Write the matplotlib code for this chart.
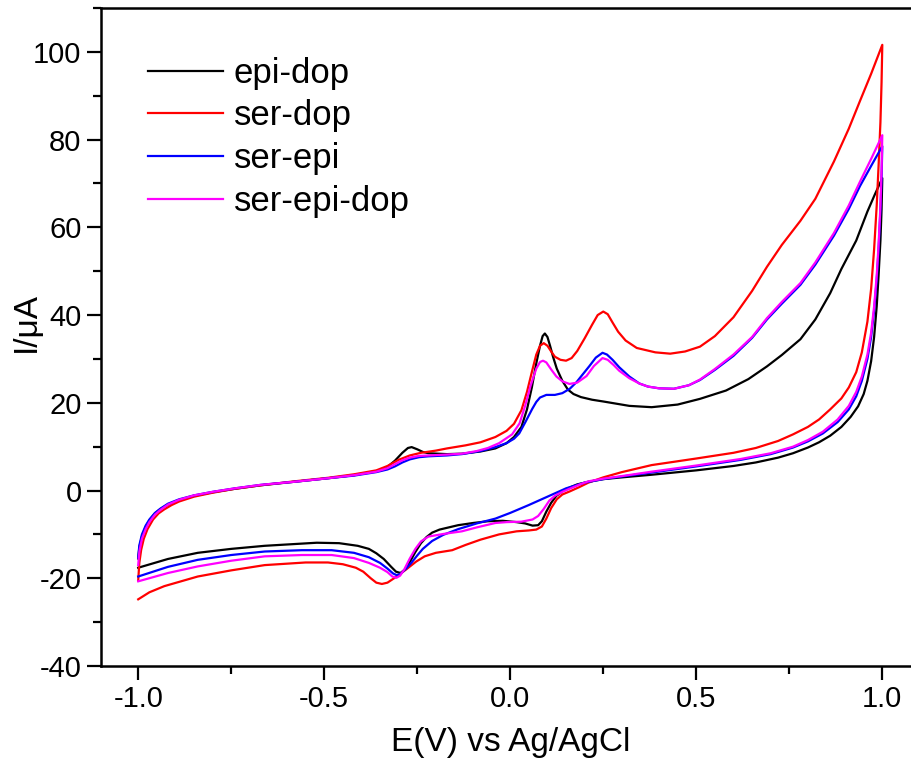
import matplotlib
matplotlib.use("Agg")
import matplotlib.pyplot as plt
from matplotlib.ticker import MultipleLocator, FormatStrFormatter

plt.rcParams['font.family'] = ['Liberation Sans', 'DejaVu Sans']
plt.rcParams['axes.unicode_minus'] = False

labels = ["epi-dop", "ser-dop", "ser-epi", "ser-epi-dop"]
colors = ["black", "#ff0000", "#0000ff", "#ff00ff"]

# epi-dop
epi_dop_fwd_E = [-1.0, -0.997, -0.99, -0.98, -0.97, -0.955, -0.94, -0.92, -0.89, -0.85, -0.80, -0.74, -0.67, -0.58,
                 -0.49, -0.42, -0.36, -0.33, -0.31, -0.29, -0.275, -0.265, -0.25, -0.235, -0.22, -0.17, -0.13,
                 -0.08, -0.04, -0.01, 0.01, 0.03, 0.045, 0.058, 0.07, 0.08, 0.087, 0.093, 0.1, 0.107, 0.115,
                 0.125, 0.14, 0.155, 0.17, 0.19, 0.22, 0.25, 0.32, 0.38, 0.45, 0.51, 0.58, 0.64, 0.69, 0.73,
                 0.78, 0.82, 0.86, 0.89, 0.93, 0.96, 0.98, 1.0]
epi_dop_fwd_I = [-15.5, -13.0, -10.5, -8.3, -6.8, -5.2, -4.2, -3.2, -2.2, -1.2, -0.4, 0.4, 1.2, 2.0,
                 2.8, 3.5, 4.4, 5.4, 6.8, 8.6, 9.7, 9.9, 9.4, 8.8, 8.5, 8.3, 8.4,
                 8.9, 9.6, 10.8, 12.2, 14.5, 18.5, 23.5, 29.0, 33.0, 35.2, 35.8, 35.0, 33.0, 30.5,
                 27.8, 25.0, 23.0, 22.0, 21.3, 20.7, 20.3, 19.3, 19.0, 19.6, 20.9, 22.8, 25.4, 28.3, 30.9,
                 34.5, 39.0, 45.0, 50.5, 57.0, 63.6, 67.5, 71.2]
epi_dop_rev_E = [1.0, 0.998, 0.995, 0.99, 0.985, 0.978, 0.97, 0.96, 0.95, 0.935, 0.915, 0.89, 0.86, 0.83,
                 0.80, 0.76, 0.72, 0.66, 0.60, 0.50, 0.38, 0.30, 0.25, 0.21, 0.18, 0.16, 0.14, 0.124, 0.11,
                 0.097, 0.085, 0.075, 0.06, 0.04, 0.017, -0.02, -0.06, -0.10, -0.14, -0.19, -0.21, -0.225,
                 -0.24, -0.255, -0.27, -0.283, -0.295, -0.307, -0.32, -0.34, -0.36, -0.38, -0.41, -0.46,
                 -0.52, -0.58, -0.66, -0.75, -0.84, -0.92, -1.0]
epi_dop_rev_I = [71.2, 64.0, 57.0, 49.0, 42.0, 35.0, 29.5, 25.0, 22.0, 19.2, 16.8, 14.5, 12.5, 11.0,
                 9.8, 8.5, 7.5, 6.4, 5.6, 4.6, 3.6, 3.0, 2.6, 2.0, 1.4, 0.7, -0.2, -1.2, -2.8,
                 -4.8, -7.0, -7.9, -8.0, -7.5, -7.2, -6.9, -7.0, -7.4, -7.9, -8.9, -9.6, -10.6,
                 -12.0, -14.0, -16.3, -18.0, -18.8, -18.5, -17.4, -15.6, -14.3, -13.3, -12.6, -12.0,
                 -11.9, -12.2, -12.6, -13.3, -14.2, -15.6, -17.6]

# ser-dop
ser_dop_fwd_E = [-1.0, -0.997, -0.992, -0.985, -0.975, -0.96, -0.945, -0.93, -0.91, -0.89, -0.85, -0.80, -0.74,
                 -0.67, -0.58, -0.49, -0.42, -0.36, -0.33, -0.30, -0.27, -0.24, -0.20, -0.17, -0.12, -0.08,
                 -0.04, -0.01, 0.01, 0.03, 0.045, 0.058, 0.07, 0.08, 0.09, 0.1, 0.11, 0.12, 0.135, 0.15, 0.165,
                 0.18, 0.2, 0.22, 0.235, 0.25, 0.262, 0.275, 0.29, 0.31, 0.34, 0.39, 0.43, 0.47, 0.51, 0.55,
                 0.60, 0.65, 0.69, 0.73, 0.78, 0.82, 0.87, 0.91, 0.94, 0.97, 1.0]
ser_dop_fwd_I = [-20.5, -16.5, -13.5, -11.0, -8.8, -6.6, -5.2, -4.3, -3.3, -2.5, -1.4, -0.5, 0.4,
                 1.2, 2.1, 2.9, 3.7, 4.6, 5.6, 7.0, 8.0, 8.6, 9.1, 9.6, 10.3, 11.0,
                 12.2, 13.6, 15.2, 18.3, 22.5, 27.0, 31.0, 33.0, 33.6, 33.0, 31.7, 30.5, 29.8, 29.6, 30.2,
                 31.8, 34.7, 37.8, 40.0, 40.8, 40.2, 38.3, 36.2, 34.2, 32.5, 31.5, 31.2, 31.7, 32.8, 35.2,
                 39.5, 45.5, 51.0, 56.0, 61.5, 66.5, 75.0, 82.5, 88.8, 95.0, 101.6]
ser_dop_rev_E = [1.0, 0.998, 0.995, 0.99, 0.985, 0.978, 0.97, 0.96, 0.945, 0.93, 0.91, 0.89, 0.86, 0.83,
                 0.80, 0.76, 0.72, 0.66, 0.60, 0.50, 0.38, 0.30, 0.25, 0.21, 0.186, 0.16, 0.14, 0.125, 0.11,
                 0.097, 0.085, 0.07, 0.05, 0.017, -0.03, -0.08, -0.12, -0.156, -0.20, -0.23, -0.253, -0.28,
                 -0.307, -0.33, -0.345, -0.36, -0.375, -0.395, -0.415, -0.45, -0.49, -0.55, -0.66, -0.75,
                 -0.84, -0.93, -0.97, -1.0]
ser_dop_rev_I = [101.6, 93.0, 84.0, 74.0, 65.0, 55.0, 46.0, 38.5, 31.5, 27.0, 23.5, 21.0, 18.5, 16.2,
                 14.5, 12.8, 11.3, 9.7, 8.6, 7.3, 5.8, 4.2, 3.0, 1.8, 0.8, -0.2, -0.9, -2.0, -4.0,
                 -6.4, -8.2, -8.9, -9.1, -9.3, -10.0, -11.2, -12.4, -13.6, -14.2, -15.0, -16.2, -18.0,
                 -19.7, -21.0, -21.3, -21.0, -20.0, -18.5, -17.6, -16.8, -16.4, -16.4, -17.0, -18.2,
                 -19.6, -21.8, -23.2, -24.8]

# ser-epi
ser_epi_fwd_E = [-1.0, -0.997, -0.99, -0.98, -0.97, -0.955, -0.94, -0.92, -0.89, -0.85, -0.80, -0.74, -0.67,
                 -0.58, -0.49, -0.42, -0.36, -0.33, -0.31, -0.29, -0.27, -0.245, -0.22, -0.17, -0.13, -0.08,
                 -0.04, -0.01, 0.01, 0.024, 0.04, 0.059, 0.07, 0.08, 0.097, 0.12, 0.14, 0.16, 0.178, 0.195,
                 0.213, 0.23, 0.248, 0.26, 0.275, 0.293, 0.32, 0.347, 0.37, 0.40, 0.44, 0.48, 0.51, 0.55,
                 0.60, 0.65, 0.69, 0.73, 0.78, 0.82, 0.87, 0.91, 0.94, 0.97, 1.0]
ser_epi_fwd_I = [-15.3, -12.5, -10.0, -8.0, -6.6, -5.1, -4.1, -3.0, -2.0, -1.1, -0.3, 0.5, 1.3,
                 2.0, 2.8, 3.4, 4.2, 4.8, 5.5, 6.4, 7.1, 7.6, 7.8, 8.0, 8.3, 9.0,
                 9.9, 10.8, 11.8, 13.0, 15.5, 18.6, 20.2, 21.2, 21.8, 21.8, 22.2, 23.2, 24.7, 26.5,
                 28.4, 30.3, 31.4, 31.0, 29.8, 28.1, 26.0, 24.4, 23.7, 23.3, 23.2, 24.0, 25.2, 27.5,
                 30.7, 34.8, 39.0, 42.6, 46.9, 51.5, 58.1, 64.2, 69.4, 74.0, 78.5]
ser_epi_rev_E = [1.0, 0.998, 0.995, 0.99, 0.985, 0.978, 0.97, 0.96, 0.945, 0.93, 0.91, 0.88, 0.84, 0.80,
                 0.76, 0.70, 0.62, 0.50, 0.38, 0.30, 0.25, 0.20, 0.15, 0.10, 0.05, 0.0, -0.04, -0.09, -0.14,
                 -0.18, -0.21, -0.235, -0.25, -0.265, -0.28, -0.295, -0.305, -0.315, -0.33, -0.35, -0.38,
                 -0.42, -0.48, -0.56, -0.66, -0.75, -0.84, -0.92, -1.0]
ser_epi_rev_I = [78.5, 71.0, 64.0, 55.0, 48.0, 41.0, 35.0, 30.0, 25.0, 21.5, 18.5, 15.6, 13.0, 11.2,
                 9.8, 8.3, 7.0, 5.5, 4.1, 3.2, 2.6, 1.8, 0.5, -1.4, -3.3, -5.1, -6.4, -7.5, -8.8,
                 -10.1, -11.5, -13.3, -14.8, -16.4, -17.8, -19.0, -19.3, -18.9, -17.8, -16.5, -15.2,
                 -14.2, -13.6, -13.6, -13.9, -14.7, -15.8, -17.4, -19.6]

# ser-epi-dop
ser_epi_dop_fwd_E = [-1.0, -0.997, -0.99, -0.98, -0.97, -0.955, -0.94, -0.92, -0.89, -0.85, -0.80, -0.74, -0.67,
                     -0.58, -0.49, -0.42, -0.36, -0.33, -0.31, -0.29, -0.27, -0.245, -0.22, -0.17, -0.13, -0.09,
                     -0.06, -0.03, 0.005, 0.025, 0.04, 0.055, 0.07, 0.08, 0.088, 0.097, 0.11, 0.124, 0.14, 0.159,
                     0.18, 0.205, 0.225, 0.248, 0.262, 0.278, 0.293, 0.32, 0.347, 0.37, 0.40, 0.44, 0.48, 0.51,
                     0.55, 0.60, 0.65, 0.69, 0.73, 0.78, 0.82, 0.87, 0.91, 0.94, 0.97, 1.0]
ser_epi_dop_fwd_I = [-17.0, -14.0, -11.0, -8.8, -7.2, -5.5, -4.4, -3.2, -2.1, -1.1, -0.3, 0.5, 1.3,
                     2.0, 2.8, 3.5, 4.3, 5.1, 6.0, 6.9, 7.5, 7.9, 8.0, 8.2, 8.4, 9.0,
                     9.7, 10.8, 12.8, 15.3, 19.3, 24.0, 27.8, 29.3, 29.6, 29.2, 27.6, 26.0, 24.9, 24.3,
                     24.6, 26.1, 28.4, 30.2, 29.8, 28.6, 27.3, 25.6, 24.4, 23.7, 23.3, 23.2, 24.0, 25.3,
                     27.7, 31.0, 35.0, 39.3, 43.0, 47.3, 52.0, 58.7, 65.0, 70.4, 75.6, 81.0]
ser_epi_dop_rev_E = [1.0, 0.998, 0.995, 0.99, 0.985, 0.978, 0.97, 0.96, 0.945, 0.93, 0.91, 0.88, 0.84, 0.80,
                     0.76, 0.70, 0.62, 0.50, 0.38, 0.30, 0.25, 0.21, 0.19, 0.165, 0.14, 0.12, 0.105, 0.09,
                     0.075, 0.06, 0.03, -0.01, -0.04, -0.09, -0.13, -0.18, -0.22, -0.24, -0.255, -0.27, -0.285,
                     -0.296, -0.306, -0.317, -0.33, -0.35, -0.38, -0.42, -0.48, -0.56, -0.66, -0.75, -0.84,
                     -0.92, -1.0]
ser_epi_dop_rev_I = [81.0, 73.0, 65.0, 56.0, 49.0, 42.0, 36.0, 31.0, 26.0, 22.5, 19.3, 16.2, 13.4, 11.5,
                     10.0, 8.5, 7.2, 5.7, 4.3, 3.3, 2.7, 2.1, 1.5, 0.6, -0.3, -1.2, -2.3, -4.2,
                     -5.8, -6.6, -7.1, -7.2, -7.4, -8.4, -9.3, -9.9, -10.5, -11.6, -13.3, -15.5, -18.0,
                     -19.4, -19.9, -19.6, -18.6, -17.6, -16.5, -15.4, -14.7, -14.7, -15.0, -16.0, -17.3,
                     -18.8, -20.7]

series = [
    (epi_dop_fwd_E + epi_dop_rev_E, epi_dop_fwd_I + epi_dop_rev_I),
    (ser_dop_fwd_E + ser_dop_rev_E, ser_dop_fwd_I + ser_dop_rev_I),
    (ser_epi_fwd_E + ser_epi_rev_E, ser_epi_fwd_I + ser_epi_rev_I),
    (ser_epi_dop_fwd_E + ser_epi_dop_rev_E, ser_epi_dop_fwd_I + ser_epi_dop_rev_I),
]

fig = plt.figure(figsize=(9.11, 7.65), dpi=100)
ax = fig.add_axes([101 / 911, 99 / 765, 818.5 / 911, 658 / 765])

for (E, I), lab, c in zip(series, labels, colors):
    ax.plot(E, I, color=c, lw=1.6, label=lab, solid_joinstyle='round')

ax.set_xlim(-1.1, 1.1)
ax.set_ylim(-40, 110)
ax.xaxis.set_major_locator(MultipleLocator(0.5))
ax.xaxis.set_minor_locator(MultipleLocator(0.25))
ax.yaxis.set_major_locator(MultipleLocator(20))
ax.yaxis.set_minor_locator(MultipleLocator(10))
ax.xaxis.set_major_formatter(FormatStrFormatter('%.1f'))
ax.tick_params(which='major', length=10, width=1.6, labelsize=21, pad=4, direction='out')
ax.tick_params(which='minor', length=6, width=1.6, direction='out')
ax.tick_params(top=False, right=False)
for s in ax.spines.values():
    s.set_linewidth(1.8)
ax.spines['right'].set_visible(False)

ax.set_xlabel("E(V) vs Ag/AgCl", fontsize=24, labelpad=10)
ax.set_ylabel("I/\u03bcA", fontsize=24)
ax.yaxis.set_label_coords(-0.072, 0.523)

leg = ax.legend(loc='upper left', bbox_to_anchor=(0.0574, 0.926), frameon=False, fontsize=25,
                handlelength=2.15, handletextpad=0.32, labelspacing=0.28, borderpad=0, borderaxespad=0)
for h in leg.get_lines():
    h.set_linewidth(1.6)

fig.savefig("out.png", dpi=100)
